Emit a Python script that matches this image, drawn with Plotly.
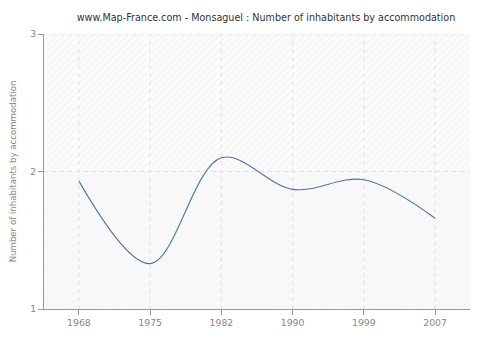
import plotly.graph_objects as go

years = ["1968", "1975", "1982", "1990", "1999", "2007"]
inhabitants = [1.93, 1.33, 2.10, 1.87, 1.94, 1.66]
y_ticks = [1, 2, 3]

positions = list(range(len(years)))
x_lo, x_hi = -0.49, len(years) - 1 + 0.49
grid_style = dict(color="#e0e0e0", width=1, dash="4px,4px")

fig = go.Figure()

# hatched background bands
fig.add_trace(go.Scatter(
    x=[x_lo, x_hi, x_hi, x_lo, x_lo], y=[2, 2, 3, 3, 2],
    fill="toself", mode="none", fillcolor="#fbfbfb",
    fillpattern=dict(shape="/", fgcolor="#e8e8e8", bgcolor="#fbfbfb", size=5, solidity=0.2),
    hoverinfo="skip", showlegend=False,
))
fig.add_trace(go.Scatter(
    x=[x_lo, x_hi, x_hi, x_lo, x_lo], y=[1, 1, 2, 2, 1],
    fill="toself", mode="none", fillcolor="#f9f9f9",
    fillpattern=dict(shape="/", fgcolor="#f1f1f1", bgcolor="#f9f9f9", size=5, solidity=0.2),
    hoverinfo="skip", showlegend=False,
))

# dashed grid drawn over the bands
for p in positions:
    fig.add_trace(go.Scatter(x=[p, p], y=[y_ticks[0], y_ticks[-1]], mode="lines",
                             line=grid_style, hoverinfo="skip", showlegend=False))
for v in y_ticks[1:]:
    fig.add_trace(go.Scatter(x=[x_lo, x_hi], y=[v, v], mode="lines",
                             line=grid_style, hoverinfo="skip", showlegend=False))

fig.add_trace(go.Scatter(
    x=positions, y=inhabitants, mode="lines",
    line=dict(color="#4a76aa", width=1.1, shape="spline", smoothing=1.0),
    showlegend=False,
))

fig.update_xaxes(
    tickvals=positions, ticktext=years,
    range=[x_lo, x_hi], showline=True, linecolor="#999999", linewidth=1,
    ticks="outside", ticklen=5, tickcolor="#999999",
    tickfont=dict(family="DejaVu Sans", size=9.3, color="#888888"),
    zeroline=False, showgrid=False,
)
fig.update_yaxes(
    range=[1, 3], tickvals=y_ticks, showline=True, linecolor="#999999", linewidth=1,
    ticks="outside", ticklen=5, tickcolor="#999999",
    tickfont=dict(family="DejaVu Sans", size=9.3, color="#888888"),
    title=dict(text="Number of inhabitants by accommodation",
               font=dict(family="DejaVu Sans", size=8.6, color="#888888"), standoff=12),
    zeroline=False, showgrid=False,
)

fig.update_layout(
    width=500, height=340,
    margin=dict(l=40, r=30, t=34, b=30),
    paper_bgcolor="#ffffff", plot_bgcolor="#fafafa",
    title=dict(text="www.Map-France.com - Monsaguel : Number of inhabitants by accommodation",
               x=0.532, xanchor="center", y=0.947, yanchor="middle",
               font=dict(family="DejaVu Sans", size=9.6, color="#333333")),
    shapes=[dict(
        type="path", xref="paper", yref="paper", layer="below",
        path="M 0.016,0.985 L 0.984,0.985 Q 0.992,0.985 0.992,0.97 L 0.992,0.03 "
             "Q 0.992,0.015 0.984,0.015 L 0.016,0.015 Q 0.008,0.015 0.008,0.03 "
             "L 0.008,0.97 Q 0.008,0.985 0.016,0.985 Z",
        fillcolor="#efefef", line=dict(color="#e4e4e4", width=1),
    )],
)

fig.write_html("out.html")
